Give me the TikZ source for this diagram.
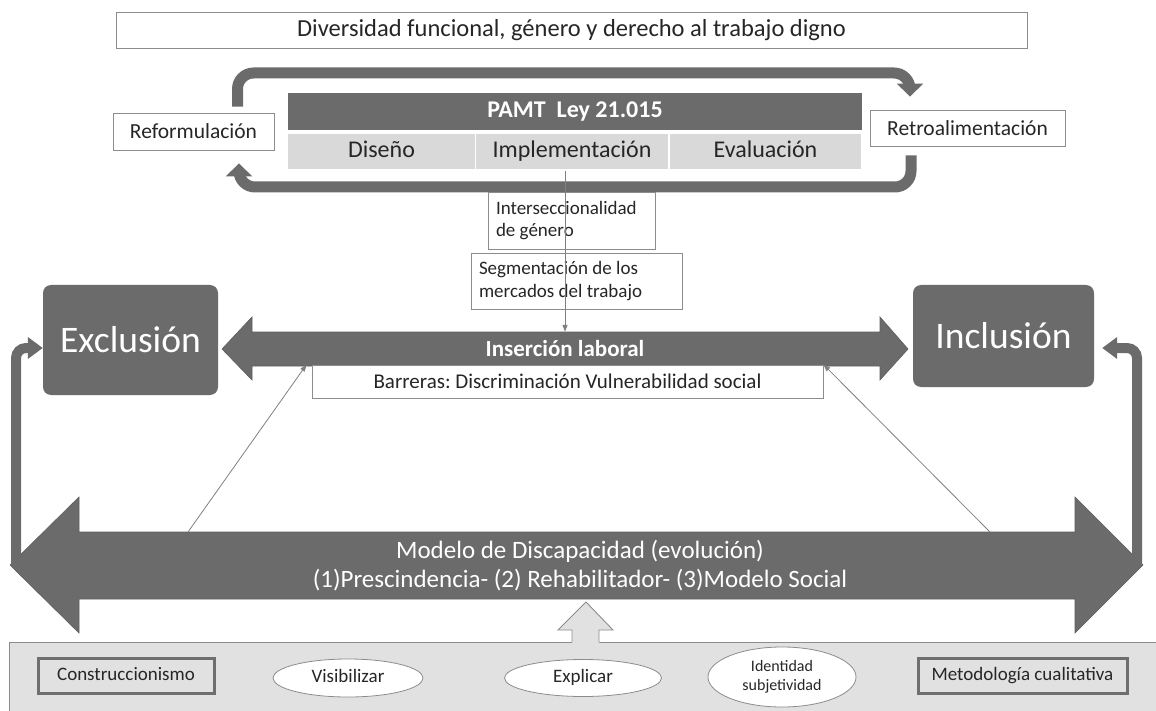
\documentclass[tikz,border=0pt]{standalone}
\usepackage{fontspec}
\setmainfont{Carlito}
\usetikzlibrary{arrows.meta,shapes.geometric,calc}
\definecolor{dk}{HTML}{6B6B6B}
\definecolor{dkline}{HTML}{5E5E5E}
\definecolor{lt}{HTML}{D9D9D9}
\definecolor{pnl}{HTML}{E1E1E1}
\definecolor{bd}{HTML}{8C8C8C}
\definecolor{txt}{HTML}{262626}
\frenchspacing
\begin{document}
\begin{tikzpicture}[x=1pt,y=-1pt,
  wbox/.style={draw=bd, line width=0.9pt, fill=white, inner sep=0pt, text=txt},
  cell/.style={fill=lt, draw=white, line width=1.5pt, inner sep=0pt, minimum height=37pt, text height=17pt, text depth=5pt, text=txt, font=\fontsize{24}{28}\selectfont},
  bigbox/.style={fill=dk, rounded corners=8pt, inner sep=0pt, text=white, font=\fontsize{37.5}{42}\selectfont},
  bigloop/.style={draw=dk, line width=11pt, rounded corners=16pt, -{Triangle[length=13pt,width=26pt]}},
  sideloop/.style={draw=dk, line width=10pt, rounded corners=10pt, -{Triangle[length=15pt,width=21pt]}},
  thinarr/.style={draw=gray, line width=0.8pt, -{Triangle[length=7pt,width=5pt]}},
  oval/.style={ellipse, draw=bd, line width=0.8pt, fill=white, inner sep=0pt, text=txt},
  frbox/.style={draw=dkline!90, line width=3pt, fill=pnl, inner sep=0pt, text height=13pt, text depth=4pt, text=txt, font=\fontsize{19}{22}\selectfont},
  shapearrow/.style={fill=dk, draw=dkline, line width=0.6pt}
]
\useasboundingbox (0,0) rectangle (1156,711);

% title
\node[wbox, minimum width=911pt, minimum height=36pt, font=\fontsize{24.5}{28}\selectfont] (title) at (571.5,30) {Diversidad funcional, género y derecho al trabajo digno};

% PAMT table
\node[fill=dk, inner sep=0pt, minimum width=574pt, minimum height=37pt, text=white, font=\bfseries\fontsize{24}{28}\selectfont] (pamt) at (575,111.5) {PAMT\ \ Ley 21.015};
\node[cell, minimum width=188pt] (dis) at (381.5,151.5) {Diseño};
\node[cell, minimum width=193pt] (impl) at (572,151.5) {Implementación};
\node[cell, minimum width=193pt] (eval) at (765.5,151.5) {Evaluación};

% side boxes
\node[wbox, minimum width=161pt, minimum height=37pt, font=\fontsize{21.5}{25}\selectfont] (reform) at (193.5,131.5) {Reformulación};
\node[wbox, minimum width=195pt, minimum height=36pt, font=\fontsize{21.5}{25}\selectfont] (retro) at (967.5,128) {Retroalimentación};

% loops around table
\draw[bigloop] ([xshift=44pt,yshift=6pt]reform.north) |- (575,73) -| ([xshift=-57.5pt,yshift=13pt]retro.north);
\draw[bigloop] ([xshift=-56.5pt,yshift=-9pt]retro.south) |- (575,187) -| ([xshift=45.5pt,yshift=-13pt]reform.south);

% text boxes
\node[wbox, minimum width=167pt, minimum height=57pt, text width=151pt, align=flush left, inner xsep=8pt, font=\fontsize{19}{22.5}\selectfont] (inter) at (571.5,220.5) {Interseccionalidad\\de género};
\node[wbox, minimum width=211pt, minimum height=56pt, text width=195pt, align=flush left, inner xsep=8pt, font=\fontsize{19}{23}\selectfont] (segm) at (576.5,281) {Segmentación de los\\mercados del trabajo};

% Exclusion / Inclusion
\node[bigbox, minimum width=175pt, minimum height=110pt] (excl) at (130.5,340) {Exclusión};
\node[bigbox, minimum width=181pt, minimum height=102pt] (incl) at (1003.5,336) {Inclusión};

% Insercion laboral arrow
\path[shapearrow] (222,349) -- (252,317) -- (252,332) -- (880,332) -- (880,317) -- (908,349) -- (880,380) -- (880,366) -- (252,366) -- (252,380) -- cycle;
\node[inner sep=0pt, minimum width=628pt, minimum height=34pt, text=white, font=\bfseries\fontsize{23}{26}\selectfont] (ins) at (565,349) {Inserción laboral};

% vertical connector
\draw[thinarr] ([xshift=-7pt]impl.south) -- (ins.north);

% Barreras
\node[wbox, minimum width=511pt, minimum height=33pt, font=\fontsize{21}{24}\selectfont] (bar) at (567.5,381.5) {Barreras: Discriminación Vulnerabilidad social};

% Modelo arrow
\path[shapearrow] (10,565) -- (79,497) -- (79,532) -- (1075,532) -- (1075,497) -- (1143,565) -- (1075,633) -- (1075,599) -- (79,599) -- (79,633) -- cycle;
\node[inner sep=0pt, text=white, align=center, font=\fontsize{25}{29}\selectfont] (mod) at (580,566) {Modelo de Discapacidad (evolución)\\(1)Prescindencia- (2) Rehabilitador- (3)Modelo Social};

% thin arrows
\coordinate (lb) at (188,532);
\coordinate (rb) at (990,532);
\draw[thinarr] (lb) -- ([xshift=-5pt]bar.north west);
\draw[thinarr] (rb) -- (bar.north east);

% side loops
\coordinate (mL) at (16,565);
\coordinate (mR) at (1137,565);
\draw[sideloop] (mL) |- ($(excl.west)+(0,8)$);
\draw[sideloop] (mR) |- ($(incl.east)+(8,12)$);

% bottom panel
\fill[pnl] (9,642) rectangle (1157,712);
\draw[bd, line width=0.9pt] (9,712) -- (9,642) -- (1157,642);
\fill[pnl] (572,643) -- (572,630) -- (558,630) -- (586,602) -- (613,630) -- (599,630) -- (599,643) -- cycle;
\draw[bd, line width=0.9pt] (572,642) -- (572,630) -- (558,630) -- (586,602) -- (613,630) -- (599,630) -- (599,642);

\node[frbox, minimum width=176pt, minimum height=35pt] (cons) at (126,675.5) {Construccionismo};
\node[frbox, minimum width=209pt, minimum height=35pt] (meto) at (1022.5,675.5) {Metodología cualitativa};
\node[oval, minimum width=150pt, minimum height=38pt, text height=13pt, text depth=4pt, font=\fontsize{19}{22}\selectfont] (vis) at (348,678) {Visibilizar};
\node[oval, minimum width=157pt, minimum height=37pt, text height=13pt, text depth=4pt, font=\fontsize{19}{22}\selectfont] (expl) at (583,678) {Explicar};
\node[oval, minimum width=148pt, minimum height=60pt, align=center, font=\fontsize{16}{19}\selectfont] (iden) at (782,677) {Identidad\\subjetividad};
\end{tikzpicture}
\end{document}
